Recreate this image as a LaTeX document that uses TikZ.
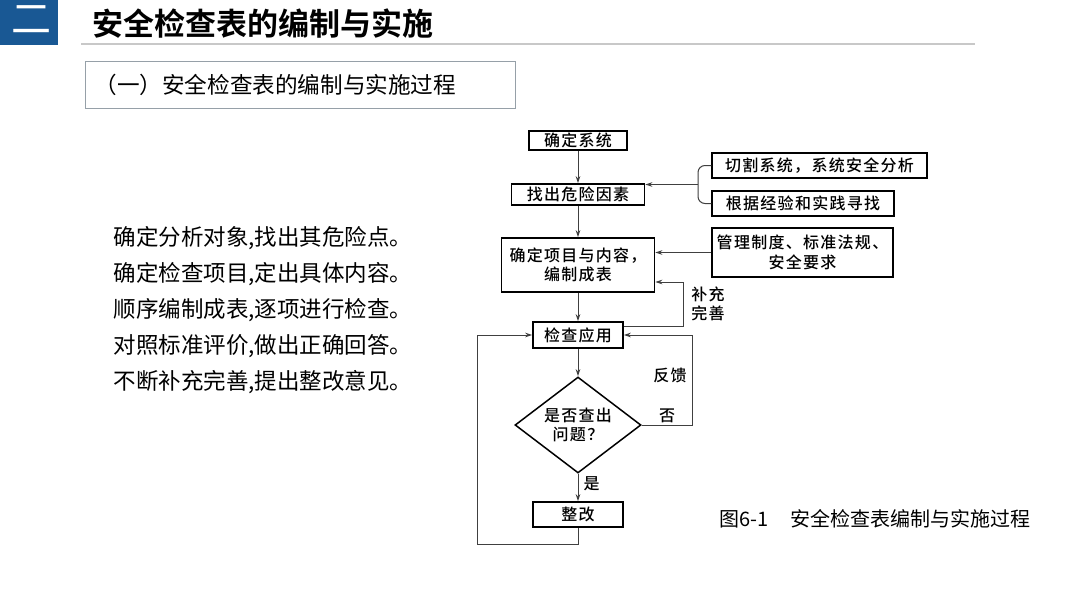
\documentclass[tikz,border=0pt]{standalone}
\usepackage{fontspec}
\setmainfont{Liberation Sans}
\newfontfamily\cjk{Noto Sans CJK SC}
\newfontfamily\cjkbold{Noto Sans CJK SC Bold}
\newfontfamily\cjkflow{Noto Sans CJK SC Medium}[LetterSpace=8]
\usetikzlibrary{shapes.geometric,arrows.meta}
\definecolor{hdrblue}{RGB}{25,88,148}
\definecolor{rulegray}{RGB}{200,200,200}
\definecolor{subframe}{RGB}{150,160,168}
\begin{document}
\begin{tikzpicture}[x=1pt,y=-1pt,
    flowbox/.style={draw=black,line width=1.5pt,inner sep=0pt,align=center,font=\cjkflow\fontsize{16}{19.5}\selectfont},
    flowlbl/.style={inner sep=0pt,align=center,font=\cjkflow\fontsize{16}{19.5}\selectfont},
    conn/.style={draw=black!75,line width=1pt},
    arr/.style={conn,-{Stealth[length=7pt,width=4.5pt]}}]
  \useasboundingbox (0,0) rectangle (1080,608);
  \fill[white] (0,0) rectangle (1080,608);
  \fill[hdrblue] (0,0) rectangle (58,45);
  \node[text=white,font=\cjk\fontsize{40}{40}\selectfont] (num) at (31,20) {二};
  \node[anchor=west,font=\cjkbold\fontsize{31}{36}\selectfont] (title) at (89,24) {安全检查表的编制与实施};
  \draw[rulegray,line width=2pt] (81,44) -- (975,44);
  \draw[subframe,line width=1pt] (85,61) rectangle (515,108);
  \node[anchor=west,font=\cjk\fontsize{22.6}{26}\selectfont] (sub) at (91,85) {（一）安全检查表的编制与实施过程};
  \foreach \t [count=\i] in {{确定分析对象,找出其危险点。},{确定检查项目,定出具体内容。},{顺序编制成表,逐项进行检查。},{对照标准评价,做出正确回答。},{不断补充完善,提出整改意见。}}
    \node[anchor=west,font=\cjk\fontsize{22.5}{26}\selectfont] (step\i) at (110,202+36*\i) {\t};
  \node[flowbox,minimum width=98pt,minimum height=19pt] (sys) at (578,140.5) {确定系统};
  \node[flowbox,minimum width=133pt,minimum height=21pt] (find) at (578,194.5) {找出危险因素};
  \node[flowbox,minimum width=153pt,minimum height=54pt] (item) at (578,265) {确定项目与内容，\\编制成表};
  \node[flowbox,minimum width=90pt,minimum height=26pt] (check) at (578,335) {检查应用};
  \node[flowbox,diamond,aspect=1.3,minimum width=126pt,minimum height=96pt] (judge) at (578,425) {是否查出\\问题？};
  \node[flowbox,minimum width=90pt,minimum height=25pt] (fix) at (578,514.5) {整改};
  \node[flowbox,minimum width=215pt,minimum height=25pt] (cut) at (819.5,165.5) {切割系统，系统安全分析};
  \node[flowbox,minimum width=182pt,minimum height=25pt] (exp) at (803,203.5) {根据经验和实践寻找};
  \node[flowbox,minimum width=181pt,minimum height=49pt] (mgmt) at (802.5,252.5) {管理制度、标准法规、\\安全要求};
  \draw[arr] (sys) -- (find);
  \draw[arr] (find) -- (item);
  \draw[arr] (item) -- (check);
  \draw[arr] (check) -- (judge);
  \draw[arr] (judge) -- node[flowlbl,pos=0.35,right=5pt] (yes) {是} (fix);
  \coordinate (brace) at (698,184.5);
  \draw[conn,rounded corners=7pt] (cut.west) -| (brace) |- (exp.west);
  \draw[arr] (brace) -- (brace -| find.east);
  \draw[arr] (mgmt.west) -- (mgmt.west -| item.east);
  \coordinate (supp) at (683,282);
  \draw[arr] ([yshift=9pt]check.east) -| (supp) -- (supp -| item.east);
  \node[flowlbl] (supplbl) at (708,304) {补充\\完善};
  \coordinate (back) at (692,425);
  \draw[arr] (judge.east) -- (back) |- (check.east);
  \node[flowlbl] (backlbl) at (670,375) {反馈};
  \node[flowlbl] (nolbl) at (667,416) {否};
  \coordinate (loop) at (477,544);
  \draw[arr] (fix.south) |- (loop) |- (check.west);
  \node[anchor=west,font=\cjk\fontsize{20}{24}\selectfont] (cap) at (716,519) {图6-1\hspace{22pt}安全检查表编制与实施过程};
\end{tikzpicture}
\end{document}
